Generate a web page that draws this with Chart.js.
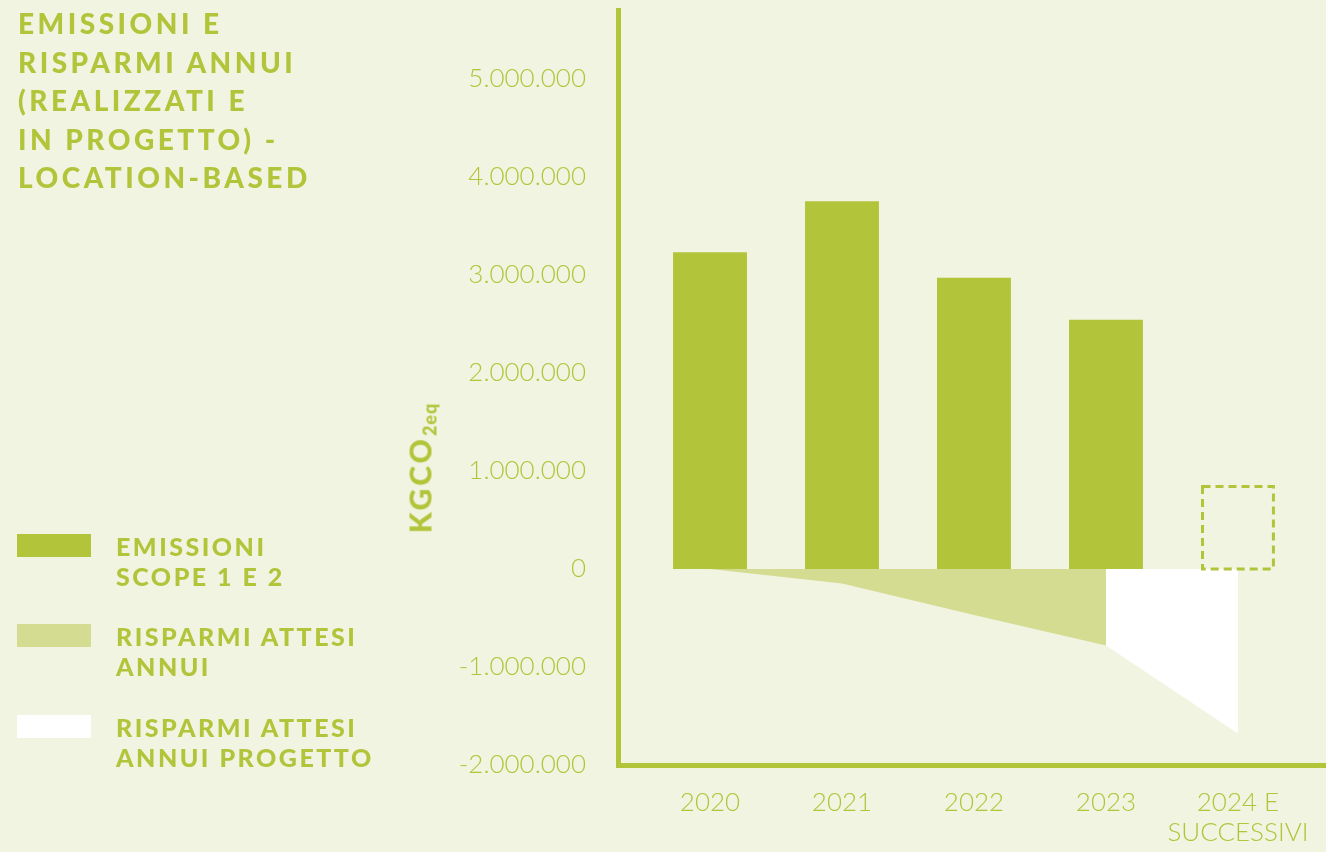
<!DOCTYPE html>
<html>
<head>
<meta charset="UTF-8">
<script src="https://cdn.jsdelivr.net/npm/chart.js@4.4.0/dist/chart.umd.min.js"></script>
<style>
  body {padding: 0; margin: 0; background: #f1f4e1; overflow: hidden;}
  #wrap {position: relative; width: 1326px; height: 852px;}
  #myChart {position: absolute; left: 0; top: 0;}
  .green {color: #b2c43a; font-family: Lato, sans-serif; font-weight: 900;}
  #title {position: absolute; left: 18px; top: 4px; font-size: 28px; line-height: 38.5px; letter-spacing: 3.5px;}
  .leg {position: absolute; left: 17px; width: 400px; height: 70px;}
  .leg .sw {position: absolute; left: 0; top: 3px; width: 74px; height: 23px;}
  .leg .tx {position: absolute; left: 99px; top: 0; font-size: 25px; line-height: 30px; letter-spacing: 2.5px;}
  #ytitle {position: absolute; left: 421px; top: 468px; transform: translate(-50%, -50%) rotate(-90deg);
           white-space: nowrap; font-size: 30px; letter-spacing: 3px;}
  #ytitle sub {font-size: 18px; letter-spacing: 1px; vertical-align: -5px;}
</style>
</head>
<body>
<div id="wrap">
  <canvas id="myChart" width="1326" height="852"></canvas>
  <div id="title" class="green">EMISSIONI E<br>RISPARMI ANNUI<br>(REALIZZATI E<br>IN PROGETTO) -<br>LOCATION-BASED</div>
  <div class="leg green" style="top:531px"><div class="sw" style="background:#b2c43a"></div><div class="tx">EMISSIONI<br>SCOPE 1 E 2</div></div>
  <div class="leg green" style="top:621px"><div class="sw" style="background:#d4dc92"></div><div class="tx">RISPARMI ATTESI<br>ANNUI</div></div>
  <div class="leg green" style="top:712px"><div class="sw" style="background:#ffffff"></div><div class="tx">RISPARMI ATTESI<br>ANNUI PROGETTO</div></div>
  <div id="ytitle" class="green">KGCO<sub>2eq</sub></div>
</div>

<script>
// data (kgCO2eq)
var years = ['2020', '2021', '2022', '2023', ['2024 E', 'SUCCESSIVI']];
var emissioni = [3230000, 3750000, 2970000, 2540000];   // 2020-2023
var emissioniPreviste = [840000];                        // 2024 e successivi (dashed)
var risparmiAttesi = [0, -150000, -470000, -780000];    // 2020-2023
var risparmiProgetto = [-780000, -1680000];             // 2023 -> 2024
var yTicks = [-2000000, -1000000, 0, 1000000, 2000000, 3000000, 4000000, 5000000];

var GREEN = '#b2c43a';
var LIGHT = '#d4dc92';

function fmt(v) {
  if (v == 0) return '0';
  var s = String(Math.abs(v)).replace(/\B(?=(\d{3})+(?!\d))/g, '.');
  return (v < 0 ? '-' : '') + s;
}

function pts(values, start) {
  return values.map(function (v, i) { return {x: start + i, y: v}; });
}

// dashed outline for the planned bar
var dashedBox = {
  id: 'dashedBox',
  afterDatasetsDraw: function (chart) {
    var ctx = chart.ctx;
    chart.data.datasets.forEach(function (ds, i) {
      if (!ds.dashed) return;
      chart.getDatasetMeta(i).data.forEach(function (bar) {
        var p = bar.getProps(['x', 'y', 'base', 'width'], true);
        ctx.save();
        ctx.strokeStyle = GREEN;
        ctx.lineWidth = 3;
        ctx.setLineDash([8, 5]);
        ctx.strokeRect(p.x - p.width / 2 + 1.5, p.y, p.width - 3, p.base - p.y);
        ctx.restore();
      });
    });
  }
};

var ctx = document.getElementById('myChart').getContext('2d');
var myChart = new Chart(ctx, {
  data: {
    datasets: [
      {type: 'bar', label: 'Emissioni scope 1 e 2', data: pts(emissioni, 0),
       backgroundColor: GREEN, borderWidth: 0, order: 1},
      {type: 'bar', label: 'Emissioni previste', data: pts(emissioniPreviste, 4),
       backgroundColor: 'rgba(0,0,0,0)', borderWidth: 0, dashed: true, order: 1},
      {type: 'line', label: 'Risparmi attesi annui', data: pts(risparmiAttesi, 0),
       backgroundColor: LIGHT, borderWidth: 0, pointRadius: 0, fill: 'origin', tension: 0, order: 2},
      {type: 'line', label: 'Risparmi attesi annui progetto', data: pts(risparmiProgetto, 3),
       backgroundColor: '#ffffff', borderWidth: 0, pointRadius: 0, fill: 'origin', tension: 0, order: 2}
    ]
  },
  options: {
    responsive: false,
    animation: false,
    layout: {padding: {top: 10, right: 0, bottom: 0, left: 0}},
    datasets: {bar: {grouped: false, categoryPercentage: 1, barPercentage: 0.56}},
    plugins: {legend: {display: false}, tooltip: {enabled: false}},
    scales: {
      x: {
        type: 'linear',
        offset: false,
        min: -0.697,
        max: 4.667,
        afterBuildTicks: function (scale) {
          scale.ticks = years.map(function (y, i) { return {value: i}; });
        },
        afterFit: function (scale) {
          scale.height = 87;
          scale.paddingLeft = 0;
          scale.paddingRight = 0;
        },
        grid: {display: false, drawTicks: false},
        border: {display: true, color: GREEN, width: 5},
        ticks: {
          color: GREEN,
          padding: 22,
          maxRotation: 0,
          autoSkip: false,
          font: {family: 'Lato', weight: 300, size: 26, lineHeight: 1.18},
          callback: function (v) { return years[v]; }
        }
      },
      y: {
        min: -2000000,
        max: 5700000,
        afterBuildTicks: function (scale) {
          scale.ticks = yTicks.map(function (v) { return {value: v}; });
        },
        afterFit: function (scale) {
          scale.width = 618;
          scale.paddingTop = 0;
          scale.paddingBottom = 0;
        },
        grid: {display: false, drawTicks: false},
        border: {display: true, color: GREEN, width: 5},
        ticks: {
          color: GREEN,
          padding: 32,
          font: {family: 'Lato', weight: 300, size: 26},
          callback: function (v) { return fmt(v); }
        }
      }
    }
  },
  plugins: [dashedBox]
});
</script>
</body>
</html>
